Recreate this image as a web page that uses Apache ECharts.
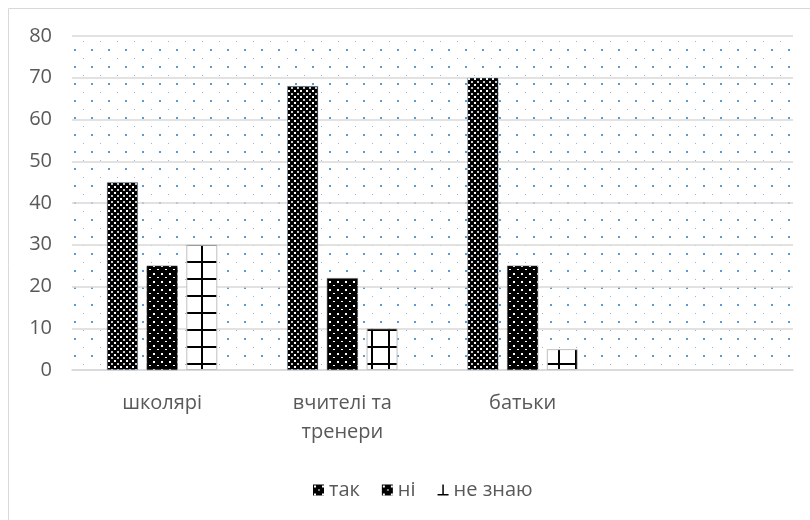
<!DOCTYPE html>
<html>
<head>
<meta charset="utf-8">
<script src="https://cdn.jsdelivr.net/npm/echarts@6/dist/echarts.min.js"></script>
<style>
  html, body { margin: 0; padding: 0; background: #fff; }
  #chart { width: 810px; height: 520px; }
</style>
</head>
<body>
<div id="chart"></div>
<script>
// Survey answers per respondent group
const categories = ['школярі', 'вчителі та\nтренери', 'батьки', ''];
const seriesNames = ['так', 'ні', 'не знаю'];
const yesValues = [45, 68, 70, null];
const noValues = [25, 22, 25, null];
const unsureValues = [30, 10, 5, null];
const yAxisMin = 0;
const yAxisMax = 80;
const yAxisStep = 10;

// Small canvas tiles used as repeating fill patterns
function makeTile(w, h, draw) {
  const c = document.createElement('canvas');
  c.width = w; c.height = h;
  draw(c.getContext('2d'));
  return { image: c, repeat: 'repeat' };
}

// plot area: sparse blue dots
const dotsBackground = makeTile(17, 17, ctx => {
  ctx.fillStyle = '#ffffff';
  ctx.fillRect(0, 0, 17, 17);
  ctx.fillStyle = '#5b9bd5';
  ctx.fillRect(6, 15, 2, 2);
  ctx.fillStyle = '#8fb9e3';
  ctx.fillRect(15, 7, 1, 1);
});

// "так": black with dense white dots
const densePattern = makeTile(6, 6, ctx => {
  ctx.fillStyle = '#000';
  ctx.fillRect(0, 0, 6, 6);
  ctx.fillStyle = '#ffffff';
  ctx.fillRect(0, 0, 2, 2);
  ctx.fillStyle = '#c8c8c8';
  ctx.fillRect(3, 3, 2, 2);
});

// "ні": black with sparse white dots
const sparsePattern = makeTile(8, 8, ctx => {
  ctx.fillStyle = '#000';
  ctx.fillRect(0, 0, 8, 8);
  ctx.fillStyle = '#ffffff';
  ctx.fillRect(1, 1, 2, 2);
  ctx.fillRect(5, 5, 2, 1);
});

// "не знаю": white with a large black grid
const gridPattern = makeTile(17, 17, ctx => {
  ctx.fillStyle = '#fff';
  ctx.fillRect(0, 0, 17, 17);
  ctx.fillStyle = '#000';
  ctx.fillRect(0, 6, 17, 2);
  ctx.fillRect(14, 0, 2, 17);
});

const fontFamily = '"Open Sans", "Noto Sans", sans-serif';
const textColor = '#595959';

const chart = echarts.init(document.getElementById('chart'), null, { renderer: 'canvas' });

chart.setOption({
  animation: false,
  backgroundColor: '#ffffff',
  textStyle: { fontFamily: fontFamily },
  graphic: [{
    type: 'rect',
    shape: { x: 8.5, y: 8.5, width: 820, height: 530 },
    style: { fill: 'none', stroke: '#d9d9d9', lineWidth: 1 },
    silent: true
  }],
  grid: {
    left: 72, right: 17, top: 36, bottom: 150,
    show: true,
    backgroundColor: dotsBackground,
    borderWidth: 0
  },
  legend: {
    top: 475,
    left: 308,
    itemWidth: 11,
    itemHeight: 11,
    itemGap: 22,
    textStyle: { fontSize: 20, color: textColor, fontFamily: fontFamily },
    data: [
      { name: seriesNames[0], icon: 'rect', itemStyle: { color: sparsePattern, borderWidth: 0 } },
      { name: seriesNames[1], icon: 'rect', itemStyle: { color: sparsePattern, borderWidth: 0 } },
      {
        name: seriesNames[2],
        icon: 'path://M0,9.5h11v1.5h-11z M4.75,0h1.5v11h-1.5z',
        itemStyle: { color: '#000', borderWidth: 0 }
      }
    ]
  },
  xAxis: {
    type: 'category',
    data: categories,
    axisLine: { show: true, lineStyle: { color: '#d9d9d9', width: 1.5 } },
    axisTick: { show: false },
    axisLabel: {
      color: textColor,
      fontSize: 20,
      lineHeight: 29,
      margin: 19,
      interval: 0,
      fontFamily: fontFamily
    },
    splitLine: { show: false }
  },
  yAxis: {
    type: 'value',
    min: yAxisMin,
    max: yAxisMax,
    interval: yAxisStep,
    axisLine: { show: false },
    axisTick: { show: false },
    axisLabel: {
      color: textColor,
      fontSize: 20,
      margin: 20,
      fontFamily: fontFamily
    },
    splitLine: { show: true, lineStyle: { color: '#d9d9d9', width: 1.5 } }
  },
  series: [
    {
      name: seriesNames[0],
      type: 'bar',
      data: yesValues,
      barWidth: 31,
      barGap: '28%',
      itemStyle: { color: densePattern, borderColor: '#9db3c8', borderWidth: 0.5 }
    },
    {
      name: seriesNames[1],
      type: 'bar',
      data: noValues,
      barWidth: 31,
      barGap: '28%',
      itemStyle: { color: sparsePattern, borderColor: '#555', borderWidth: 0.5 }
    },
    {
      name: seriesNames[2],
      type: 'bar',
      data: unsureValues,
      barWidth: 31,
      barGap: '28%',
      itemStyle: { color: gridPattern, borderColor: '#bfbfbf', borderWidth: 1 }
    }
  ]
});
</script>
</body>
</html>
